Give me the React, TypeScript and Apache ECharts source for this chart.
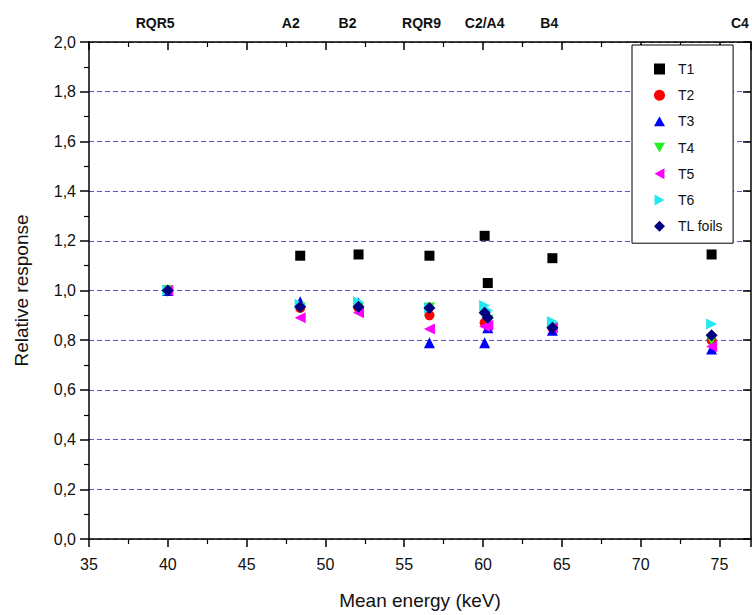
import React, { useEffect, useRef } from "react";
import * as echarts from "echarts";

const energies = [40, 48.4, 52.1, 56.6, 60.1, 60.3, 64.4, 74.5];
const seriesNames = ["T1", "T2", "T3", "T4", "T5", "T6", "TL foils"];
const t1 = [1.0, 1.14, 1.145, 1.14, 1.22, 1.03, 1.13, 1.145];
const t2 = [1.0, 0.93, 0.93, 0.9, 0.87, 0.86, 0.85, 0.8];
const t3 = [1.0, 0.955, 0.95, 0.79, 0.79, 0.85, 0.84, 0.765];
const t4 = [1.0, 0.93, 0.93, 0.93, 0.9, 0.88, 0.85, 0.8];
const t5 = [1.0, 0.89, 0.91, 0.845, 0.855, 0.86, 0.85, 0.775];
const t6 = [1.0, 0.945, 0.955, 0.93, 0.94, 0.92, 0.875, 0.865];
const tl = [1.0, 0.935, 0.935, 0.93, 0.91, 0.89, 0.85, 0.82];
const qualityLabels = ["RQR5", "A2", "B2", "RQR9", "C2/A4", "B4", "C4"];
const qualityLabelX = [39.2, 47.8, 51.4, 56.1, 60.1, 64.2, 76.3];

const seriesValues = [t1, t2, t3, t4, t5, t6, tl];
const colors = ["#000000", "#ff0000", "#0000ff", "#22ee22", "#ff00ff", "#22e8f0", "#000080"];
const symbols = ["rect", "circle", "triangle", "triangle", "triangle", "triangle", "diamond"];
const rotations = [0, 0, 0, 180, 90, -90, 0];
const sizes = [10, 10, 11, 11, 11, 11, 12];
const legendIcons = [
  "rect",
  "circle",
  "path://M5,0L10,9L0,9Z",
  "path://M0,0L10,0L5,9Z",
  "path://M9,0L9,10L0,5Z",
  "path://M0,0L9,5L0,10Z",
  "diamond",
];

const FONT = "'Liberation Sans', Arial, sans-serif";

export default function App() {
  const ref = useRef<HTMLDivElement>(null);
  useEffect(() => {
    if (!ref.current) return;
    const chart = echarts.init(ref.current, undefined, { renderer: "svg" });
    const fmt = (v: number) => v.toFixed(1).replace(".", ",");
    const axisLine = { show: true, onZero: false, lineStyle: { color: "#000", width: 1.5 } };
    chart.setOption({
      animation: false,
      backgroundColor: "#fff",
      grid: { left: 89, right: 1, top: 42, bottom: 75, containLabel: false },
      legend: {
        left: 632,
        top: 45,
        width: 106,
        orient: "vertical",
        itemWidth: 11,
        itemHeight: 11,
        itemGap: 12.2,
        padding: [17, 10, 10, 22],
        borderColor: "#000",
        borderWidth: 1,
        backgroundColor: "#fff",
        textStyle: { fontFamily: FONT, fontSize: 14, color: "#111", padding: [0, 0, 0, 8] },
        data: seriesNames.map((n, i) => ({ name: n, icon: legendIcons[i] })),
      },
      xAxis: [
        {
          type: "value",
          position: "bottom",
          min: 35,
          max: 77,
          interval: 5,
          axisLine,
          axisTick: { show: true, inside: false, length: 8, lineStyle: { color: "#000", width: 1.5 } },
          minorTick: { show: true, splitNumber: 2, length: 5, lineStyle: { color: "#000", width: 1.2 } },
          splitLine: { show: false },
          axisLabel: {
            margin: 17,
            fontFamily: FONT,
            fontSize: 16,
            color: "#111",
            showMaxLabel: false,
            formatter: (v: number) => (v % 5 === 0 ? String(v) : ""),
          },
          name: "Mean energy (keV)",
          nameLocation: "middle",
          nameGap: 52,
          nameTextStyle: { fontFamily: FONT, fontSize: 19, color: "#111" },
        },
        {
          type: "value",
          position: "top",
          min: 35,
          max: 77,
          interval: 5,
          axisLine,
          axisTick: { show: true, inside: true, length: 8, lineStyle: { color: "#000", width: 1.5 } },
          minorTick: { show: true, splitNumber: 2, length: 5, lineStyle: { color: "#000", width: 1.2 } },
          splitLine: { show: false },
          axisLabel: { show: false },
        },
      ],
      yAxis: [
        {
          type: "value",
          position: "left",
          min: 0,
          max: 2,
          interval: 0.2,
          axisLine,
          axisTick: { show: true, inside: false, length: 9, lineStyle: { color: "#000", width: 1.5 } },
          minorTick: { show: true, splitNumber: 2, length: 5, lineStyle: { color: "#000", width: 1.2 } },
          splitLine: { show: true, lineStyle: { color: "#5a5ac8", type: [5, 3], width: 1 } },
          axisLabel: { margin: 13, fontFamily: FONT, fontSize: 16, color: "#111", formatter: fmt },
          name: "Relative response",
          nameLocation: "middle",
          nameGap: 58,
          nameTextStyle: { fontFamily: FONT, fontSize: 19, color: "#111" },
        },
        {
          type: "value",
          position: "right",
          min: 0,
          max: 2,
          interval: 0.2,
          axisLine,
          axisTick: { show: true, inside: true, length: 8, lineStyle: { color: "#000", width: 1.5 } },
          splitLine: { show: false },
          axisLabel: { show: false },
        },
      ],
      series: seriesNames.map((name, i) => ({
        name,
        type: "scatter",
        xAxisIndex: 0,
        yAxisIndex: 0,
        symbol: symbols[i],
        symbolRotate: rotations[i],
        symbolSize: sizes[i],
        itemStyle: { color: colors[i], opacity: 1 },
        data: energies.map((e, j) => [e, seriesValues[i][j]]),
      })),
    });
    const labelGraphics = qualityLabels.map((txt, i) => {
      const px = chart.convertToPixel({ xAxisIndex: 0 }, qualityLabelX[i]) as number;
      return {
        type: "text",
        x: px,
        y: 23,
        style: {
          text: txt,
          fontFamily: FONT,
          fontWeight: "bold",
          fontSize: 14,
          fill: "#111",
          align: "center",
          verticalAlign: "middle",
        },
      };
    });
    chart.setOption({ graphic: labelGraphics });
    return () => chart.dispose();
  }, []);
  return <div ref={ref} style={{ width: 752, height: 615, position: "absolute", left: 0, top: 0 }} />;
}
